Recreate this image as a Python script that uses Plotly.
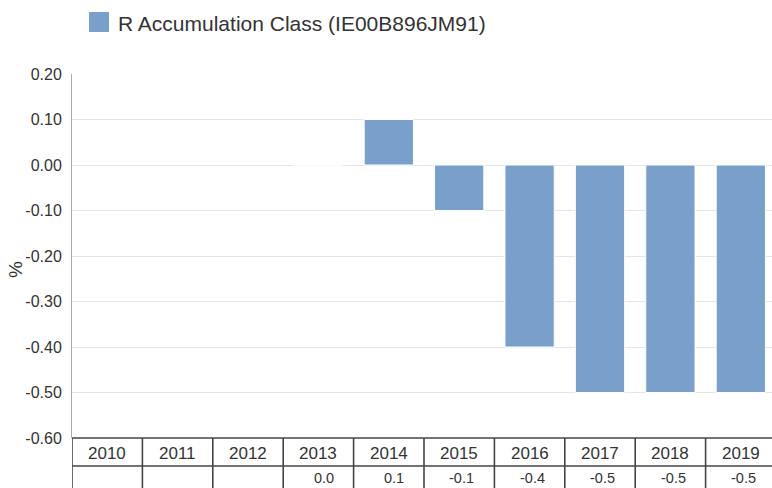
import plotly.graph_objects as go

years = ["2010", "2011", "2012", "2013", "2014", "2015", "2016", "2017", "2018", "2019"]
values = [None, None, None, 0.0, 0.1, -0.1, -0.4, -0.5, -0.5, -0.5]
value_labels = ["", "", "", "0.0", "0.1", "-0.1", "-0.4", "-0.5", "-0.5", "-0.5"]
series_name = "R Accumulation Class (IE00B896JM91)"
y_ticks = [0.2, 0.1, 0.0, -0.1, -0.2, -0.3, -0.4, -0.5, -0.6]
y_tick_text = ["0.20", "0.10", "0.00", "-0.10", "-0.20", "-0.30", "-0.40", "-0.50", "-0.60"]

BAR = "#799fcb"
FONT = "Liberation Sans, Arial, sans-serif"
TXT = "#333333"

fig = go.Figure()
fig.add_trace(go.Bar(
    x=years, y=values, name=series_name,
    marker=dict(color=BAR, line=dict(color="white", width=1)),
    showlegend=False,
))

W, H = 772, 488
L, R, T, B = 72, 0, 74, 50
plot_h = H - T - B
plot_w = W - L - R
col_w = 70.4  # the last column runs past the right edge

def py(px):
    return (H - B - px) / plot_h

def pxx(px):
    return (px - L) / plot_w

shapes = []
for ypx in [438, 466]:
    shapes.append(dict(type="line", xref="paper", yref="paper", x0=0, x1=1,
                       y0=py(ypx), y1=py(ypx), line=dict(color="#444444", width=1.6)))
for i in range(len(years)):
    shapes.append(dict(type="line", xref="x", yref="paper", x0=i - 0.5, x1=i - 0.5,
                       y0=py(438), y1=py(490), line=dict(color="#444444", width=1.6)))
# legend swatch
shapes.append(dict(type="rect", xref="paper", yref="paper", x0=pxx(89), x1=pxx(109),
                   y0=py(32), y1=py(12), fillcolor=BAR, line=dict(width=0)))

annotations = []
for i, (yr, lab) in enumerate(zip(years, value_labels)):
    annotations.append(dict(x=i, xref="x", y=py(453), yref="paper", text=yr, showarrow=False,
                            xanchor="center", yanchor="middle",
                            font=dict(family=FONT, size=17, color=TXT)))
    if lab:
        annotations.append(dict(x=i, xref="x", y=py(478), yref="paper", text=lab,
                                showarrow=False, xanchor="right", yanchor="middle",
                                xshift=col_w / 2 - 18,
                                font=dict(family=FONT, size=14.5, color=TXT)))
annotations.append(dict(x=pxx(15), xref="paper", y=py(270), yref="paper", text="%", showarrow=False,
                        textangle=-90, xanchor="center", yanchor="middle",
                        font=dict(family=FONT, size=19, color=TXT)))
annotations.append(dict(x=pxx(116), xref="paper", y=py(23), yref="paper", text=series_name,
                        showarrow=False, xanchor="left", yanchor="middle",
                        font=dict(family=FONT, size=21, color=TXT)))

fig.update_layout(
    width=W, height=H,
    margin=dict(l=L, r=R, t=T, b=B, autoexpand=False),
    paper_bgcolor="white", plot_bgcolor="white",
    font=dict(family=FONT, color=TXT),
    bargap=0.30,
    showlegend=False,
    xaxis=dict(type="category", showticklabels=False, showgrid=False, zeroline=False,
               showline=False, range=[-0.5, -0.5 + plot_w / col_w], fixedrange=True),
    yaxis=dict(range=[-0.6, 0.2], tickvals=y_ticks, ticktext=y_tick_text,
               showgrid=True, gridcolor="#e6e6e6", gridwidth=1, zeroline=False,
               showline=True, linecolor="#aaaaaa", linewidth=1,
               ticks="", ticklabelstandoff=6,
               tickfont=dict(family=FONT, size=16, color=TXT)),
    shapes=shapes, annotations=annotations,
)

fig.write_html("out.html", config={"displayModeBar": False},
               post_script="document.body.style.margin='0';document.body.style.padding='0';")
